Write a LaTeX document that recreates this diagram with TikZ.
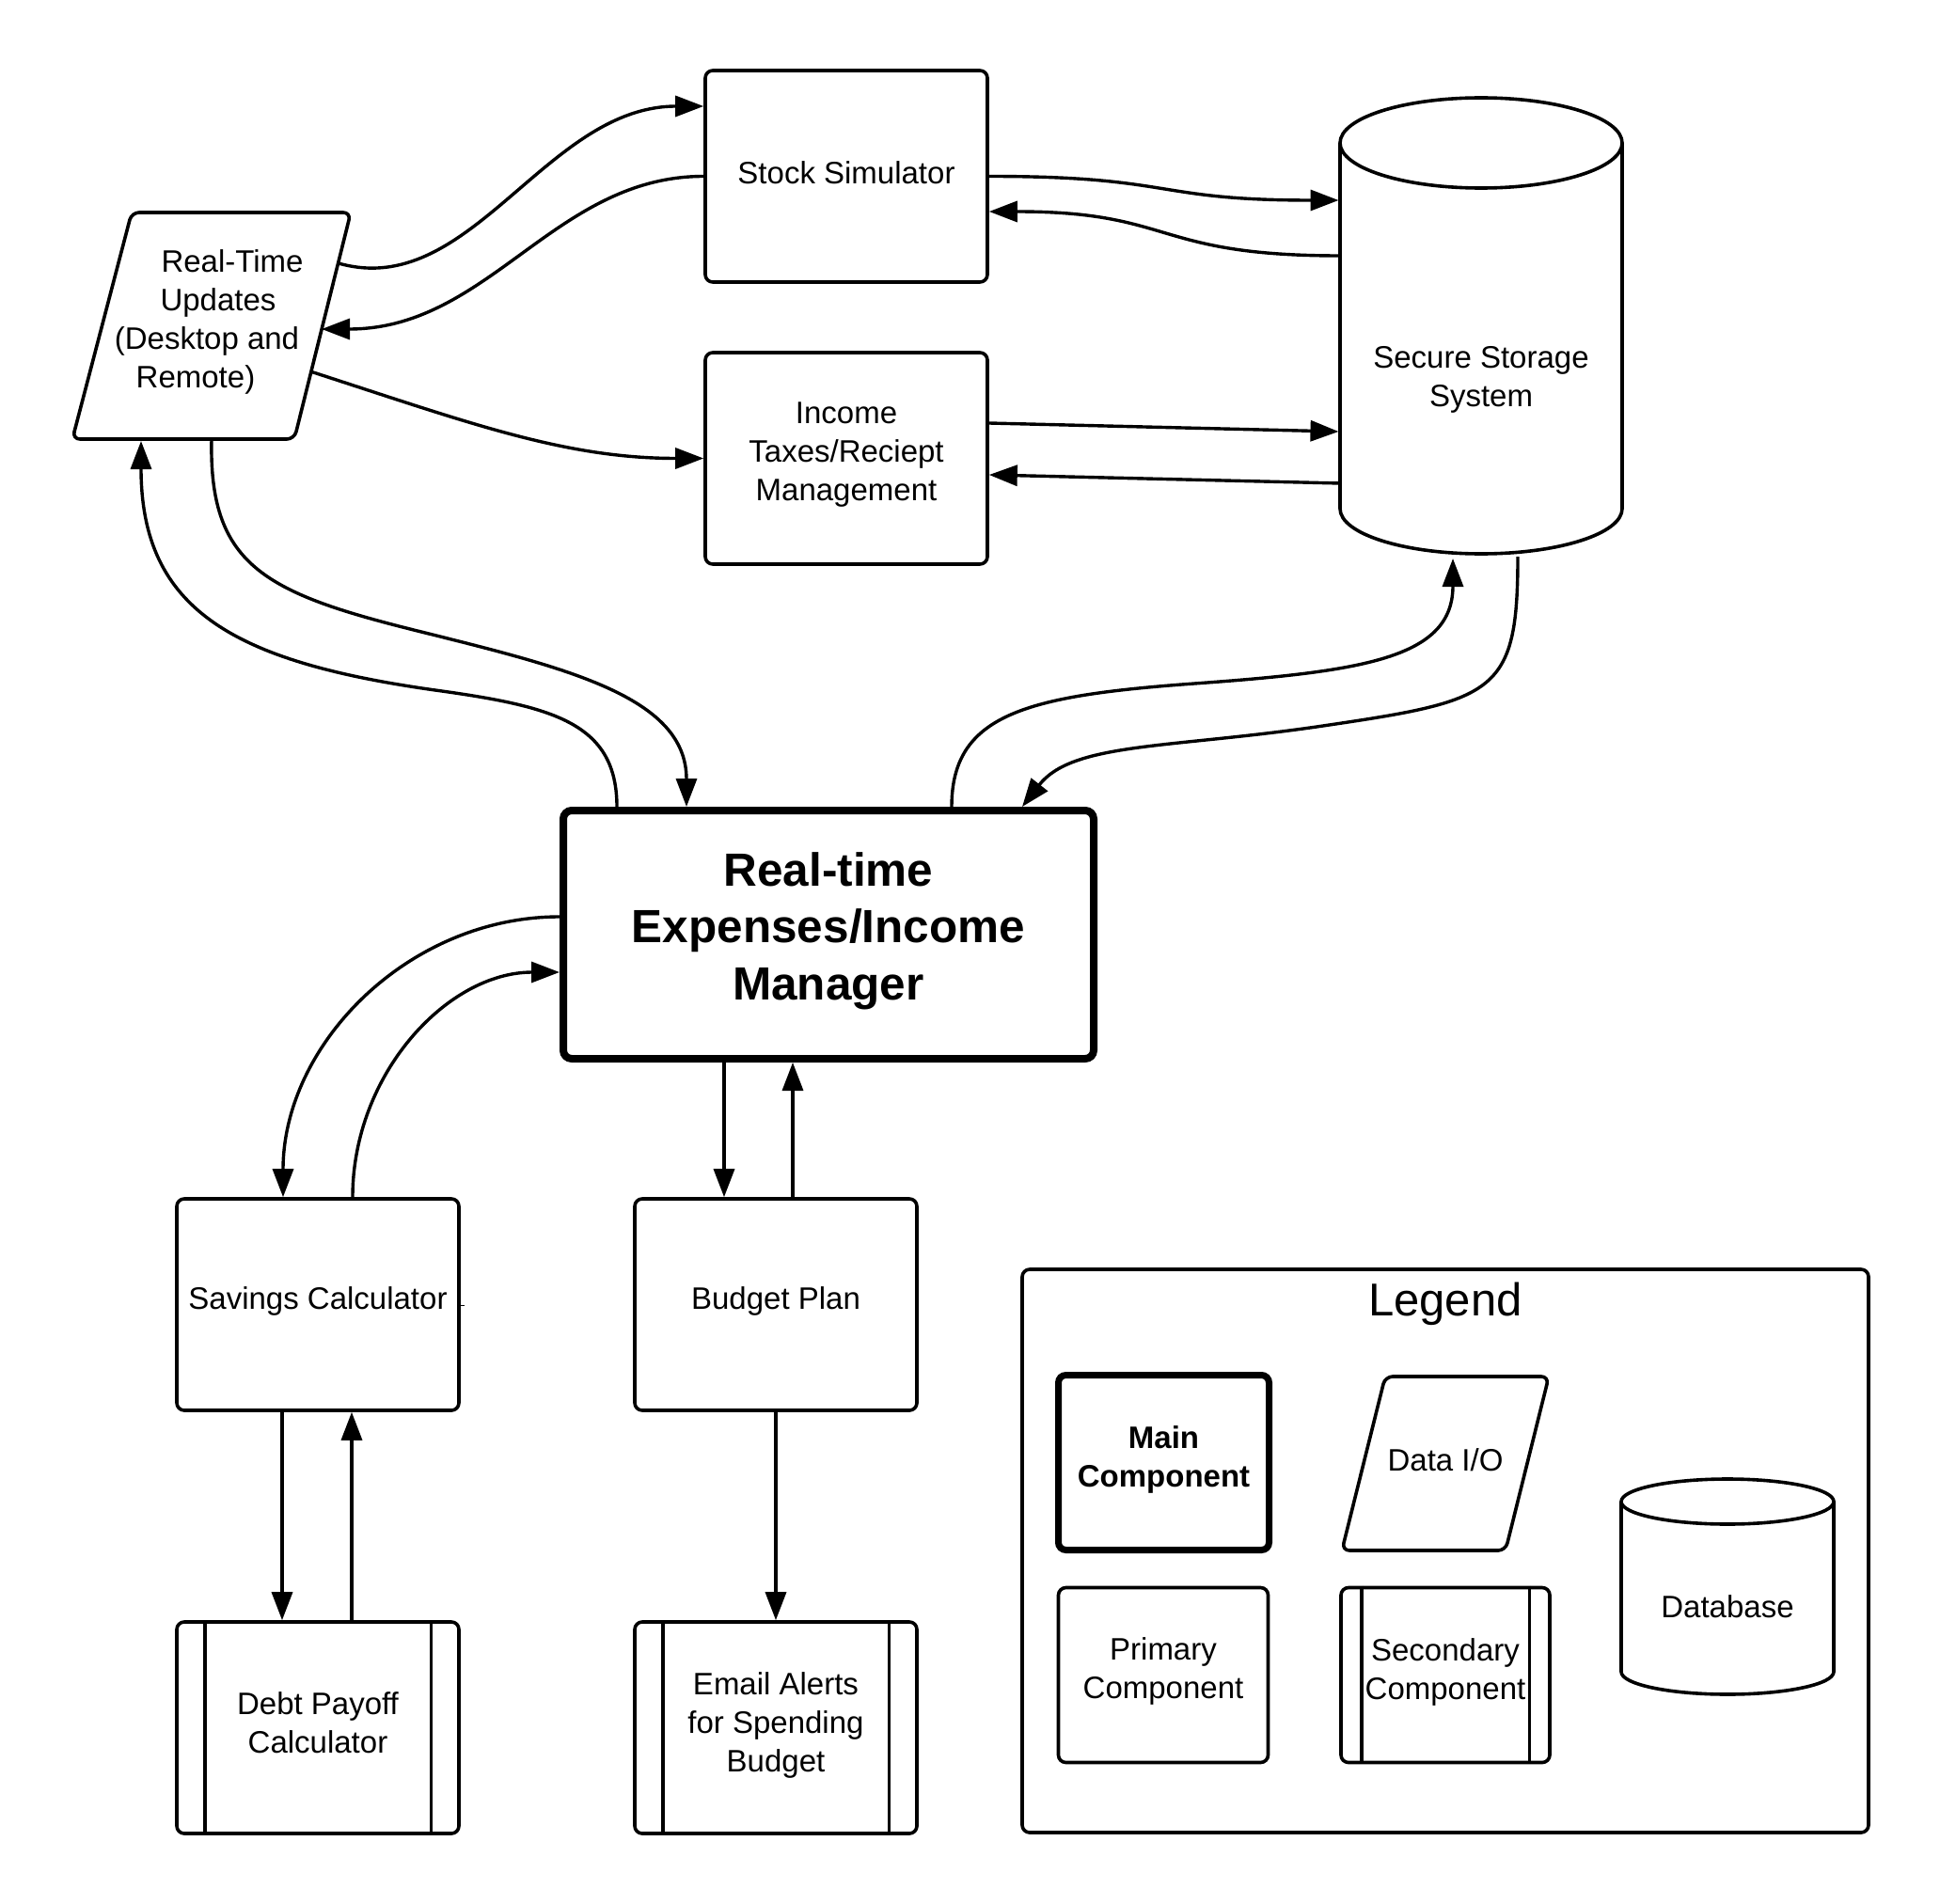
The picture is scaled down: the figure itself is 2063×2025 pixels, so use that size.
\documentclass[tikz,border=0pt]{standalone}
\usepackage{fontspec}
\setmainfont{Liberation Sans}
\usetikzlibrary{arrows.meta}
\begin{document}
\begin{tikzpicture}[x=1pt,y=-1pt,
  every node/.style={inner sep=0pt},
  txt/.style={font=\fontsize{33}{41}\selectfont, align=center},
  compbox/.style={draw, line width=3.6pt, rounded corners=8pt, fill=white,
                  minimum width=300pt, minimum height=225pt},
  boxtext/.style={label={[txt, shift={(0,-4)}]center:#1}},
  mainbox/.style={draw, line width=8pt, rounded corners=9pt, fill=white,
                  minimum width=564pt, minimum height=264pt},
  outline/.style={line width=3.6pt, fill=white},
  bar/.style={line width=3.6pt},
  hold/.style={txt, outer sep=0pt},
  flow/.style={line width=3.4pt, -{Triangle[length=30pt,width=22pt]}}
]
\useasboundingbox (0,0) rectangle (2063,2025);

% ---------- drawn outlines: data I/O and storage ----------
\draw[outline, rounded corners=8pt] (140,226) -- (373,226) -- (313,467) -- (77,467) -- cycle;
\draw[outline] (1425,152) -- (1425,541) arc[start angle=180, end angle=0, x radius=150, y radius=48] -- (1725,152);
\draw[outline] (1575,152) ellipse [x radius=150, y radius=48];

% ---------- components ----------
\node[hold] (rtu) at (227,342)
  {\hspace*{40pt}Real-Time\\\hspace*{10pt}Updates\\(Desktop and\rule{14pt}{0pt}\\Remote)\hspace*{38pt}};
\node[compbox, boxtext={Stock Simulator}] (stock)  at (900,187.5) {};
\node[compbox, boxtext={Income\\Taxes/Reciept\\Management}] (income) at (900,487.5) {};
\node[hold, minimum width=300pt, minimum height=378pt] (storage) at (1575,404) {Secure Storage\\System};
\node[mainbox, label={[align=center, font=\fontsize{49.5}{60.5}\selectfont\bfseries, shift={(0,-4)}]center:Real-time\\Expenses/Income\\Manager}] (main) at (881,994) {};
\node[compbox, boxtext={Savings Calculator}] (savings) at (338,1387.5) {};
\node[compbox, boxtext={Budget Plan}]        (budget)  at (825,1387.5) {};
\node[compbox] (debt)  at (338,1837.5) {};
\node[compbox] (email) at (825,1837.5) {};
\foreach \n in {debt,email}{
  \draw[bar] ([xshift=31.5pt]\n.north west) -- ([xshift=31.5pt]\n.south west);
  \draw[bar] ([xshift=-31.5pt]\n.north east) -- ([xshift=-31.5pt]\n.south east);
}
\node[hold] (debttext)  at ([shift={(0,-5)}]debt.center)  {Debt Payoff\\Calculator};
\node[hold] (emailtext) at ([shift={(0,-3)}]email.center) {Email Alerts\\for Spending\\Budget};
\draw[line width=1pt] ([shift={(0,0.5)}]savings.east) -- ++(4,0);

% ---------- connectors ----------
\draw[flow] ([shift={(133,-62)}]rtu.center) .. controls (500,320) and (580,113) .. ([shift={(0,-74.5)}]stock.west);
\draw[flow] (stock.west) .. controls (590,187.5) and (520,350) .. ([shift={(115,8)}]rtu.center);
\draw[flow] ([shift={(103,53)}]rtu.center) .. controls (500,450) and (600,487.5) .. (income.west);

\draw[flow] (stock.east) .. controls (1250,187.5) and (1225,213) .. ([shift={(-1.5,-191)}]storage.west);
\draw[flow] ([shift={(0,-132)}]storage.west) .. controls (1225,272) and (1250,225) .. ([shift={(0,37.5)}]stock.east);
\draw[flow] ([shift={(0,-37.5)}]income.east) -- ([shift={(-1.5,55)}]storage.west);
\draw[flow] ([shift={(0,110)}]storage.west) -- ([shift={(0,17.5)}]income.east);

\draw[flow] ([xshift=-225pt]main.north) .. controls (656,770) and (590,752) .. (470,735)
            .. controls (250,705) and (150,650) .. ([shift={(-77,127)}]rtu.center);
\draw[flow] ([shift={(-2,125)}]rtu.center) .. controls (222,600) and (280,630) .. (440,670)
            .. controls (600,710) and (730,740) .. ([xshift=-151pt]main.north);

\draw[flow] ([xshift=131pt]main.north) .. controls (1012,760) and (1090,740) .. (1270,727)
            .. controls (1450,714) and (1545,700) .. ([shift={(-30,1)}]storage.south);
\draw[flow] ([shift={(39,-1)}]storage.south) .. controls (1614,740) and (1590,745) .. (1400,773)
            .. controls (1240,796) and (1140,790) .. ([xshift=206pt]main.north);

\draw[flow] ([shift={(0,-19)}]main.west) .. controls (435,975) and (301,1110) .. ([xshift=-37pt]savings.north);
\draw[flow] ([xshift=37pt]savings.north) .. controls (375,1142) and (476,1034) .. ([shift={(0,40)}]main.west);

\draw[flow] ([xshift=-111pt]main.south) -- ([xshift=-55pt]budget.north);
\draw[flow] ([xshift=18pt]budget.north) -- ([xshift=-38pt]main.south);
\draw[flow] ([xshift=-38pt]savings.south) -- ([xshift=-38pt]debt.north);
\draw[flow] ([xshift=36pt]debt.north) -- ([xshift=36pt]savings.south);
\draw[flow] (budget.south) -- (email.north);

% ---------- legend ----------
\node[draw, line width=3.6pt, rounded corners=8pt, minimum width=900pt, minimum height=599pt] (legend) at (1537,1649.5) {};
\node[font=\fontsize{49}{60}\selectfont] (legendtitle) at (1537,1387) {Legend};
\node[draw, line width=7pt, rounded corners=8pt, minimum width=224pt, minimum height=186pt,
      label={[align=center, font=\fontsize{33}{41}\selectfont\bfseries, shift={(0,-3)}]center:Main\\Component}] (lmain) at (1237.5,1555.5) {};
\draw[outline, rounded corners=8pt] (1473,1464) -- (1647,1464) -- (1601,1649) -- (1427,1649) -- cycle;
\node[hold] (ldata) at (1537,1553) {Data I/O};
\node[compbox, minimum width=223pt, minimum height=186pt, boxtext={Primary\\Component}] (lprim) at (1237,1781.5) {};
\node[compbox, minimum width=222pt, minimum height=186pt] (lsec) at (1537,1781.5) {};
\draw[bar] ([xshift=23.5pt]lsec.north west) -- ([xshift=23.5pt]lsec.south west);
\draw[bar] ([xshift=-23.5pt]lsec.north east) -- ([xshift=-23.5pt]lsec.south east);
\node[hold] (lsectext) at ([shift={(0,-3)}]lsec.center) {Secondary\\Component};
\draw[outline] (1724,1597) -- (1724,1778) arc[start angle=180, end angle=0, x radius=113, y radius=24] -- (1950,1597);
\draw[outline] (1837,1597) ellipse [x radius=113, y radius=24];
\node[hold] (ldb) at (1837,1709) {Database};
\end{tikzpicture}
\end{document}
